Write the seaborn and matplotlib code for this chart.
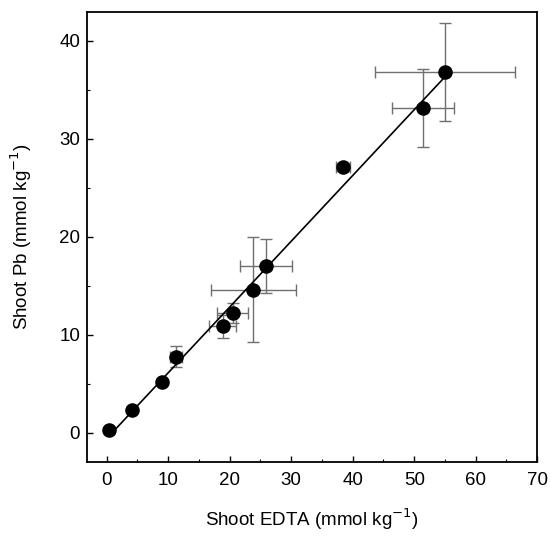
import numpy as np
import pandas as pd
import matplotlib
matplotlib.use("Agg")
import matplotlib.pyplot as plt
import seaborn as sns
from matplotlib.ticker import MultipleLocator

# Data
shoot_edta = [0.3, 4.1, 9.0, 11.3, 18.9, 20.5, 23.8, 25.9, 38.4, 51.4, 55.0]
shoot_pb = [0.3, 2.35, 5.2, 7.75, 10.85, 12.2, 14.6, 17.0, 27.1, 33.1, 36.8]
edta_err = [0.0, 0.0, 0.0, 1.0, 2.2, 2.5, 6.9, 4.2, 1.1, 5.0, 11.4]
pb_err = [0.0, 0.0, 0.0, 1.1, 1.2, 1.0, 5.4, 2.8, 0.4, 4.0, 5.0]

fit_x = [0.9, 55.0]
fit_y = [0.0, 36.3]

x_ticks = [0, 10, 20, 30, 40, 50, 60, 70]
y_ticks = [0, 10, 20, 30, 40]

df = pd.DataFrame({"edta": shoot_edta, "pb": shoot_pb,
                   "xerr": edta_err, "yerr": pb_err})
fit_df = pd.DataFrame({"x": fit_x, "y": fit_y})

sns.set_theme(style="white")
plt.rcParams["font.family"] = ["Liberation Sans", "DejaVu Sans"]

fig = plt.figure(figsize=(5.51, 5.51), dpi=100)
ax = fig.add_axes([0.158, 0.1615, 0.817, 0.8165])

ax.errorbar(df["edta"], df["pb"], xerr=df["xerr"], yerr=df["yerr"],
            fmt="none", ecolor="#707070", elinewidth=1.0, capsize=4.5,
            capthick=1.0, zorder=1)
sns.lineplot(data=fit_df, x="x", y="y", color="black", linewidth=1.2,
             ax=ax, zorder=2)
sns.scatterplot(data=df, x="edta", y="pb", color="black", s=110,
                edgecolor="black", linewidth=0, ax=ax, zorder=3)

ax.set_xlim(-3.2, 70)
ax.set_ylim(-3, 42.9)
ax.set_xticks(x_ticks)
ax.set_yticks(y_ticks)
ax.xaxis.set_minor_locator(MultipleLocator(5))
ax.yaxis.set_minor_locator(MultipleLocator(5))
ax.tick_params(which="major", direction="in", length=4, width=1.0,
               color="black", labelsize=13.5, labelcolor="black")
ax.tick_params(which="minor", direction="in", length=2.5, width=0.8,
               color="black")
ax.tick_params(axis="x", which="both", bottom=True, top=False, pad=7)
ax.tick_params(axis="y", which="both", left=True, right=False, pad=5)

for sp in ax.spines.values():
    sp.set_color("black")
    sp.set_linewidth(1.3)

ax.set_xlabel("Shoot EDTA (mmol kg$^{-1}$)", fontsize=13.5, labelpad=13,
              color="black")
ax.set_ylabel("Shoot Pb (mmol kg$^{-1}$)", fontsize=13.5, labelpad=18,
              color="black")

fig.savefig("out.png", dpi=100)
